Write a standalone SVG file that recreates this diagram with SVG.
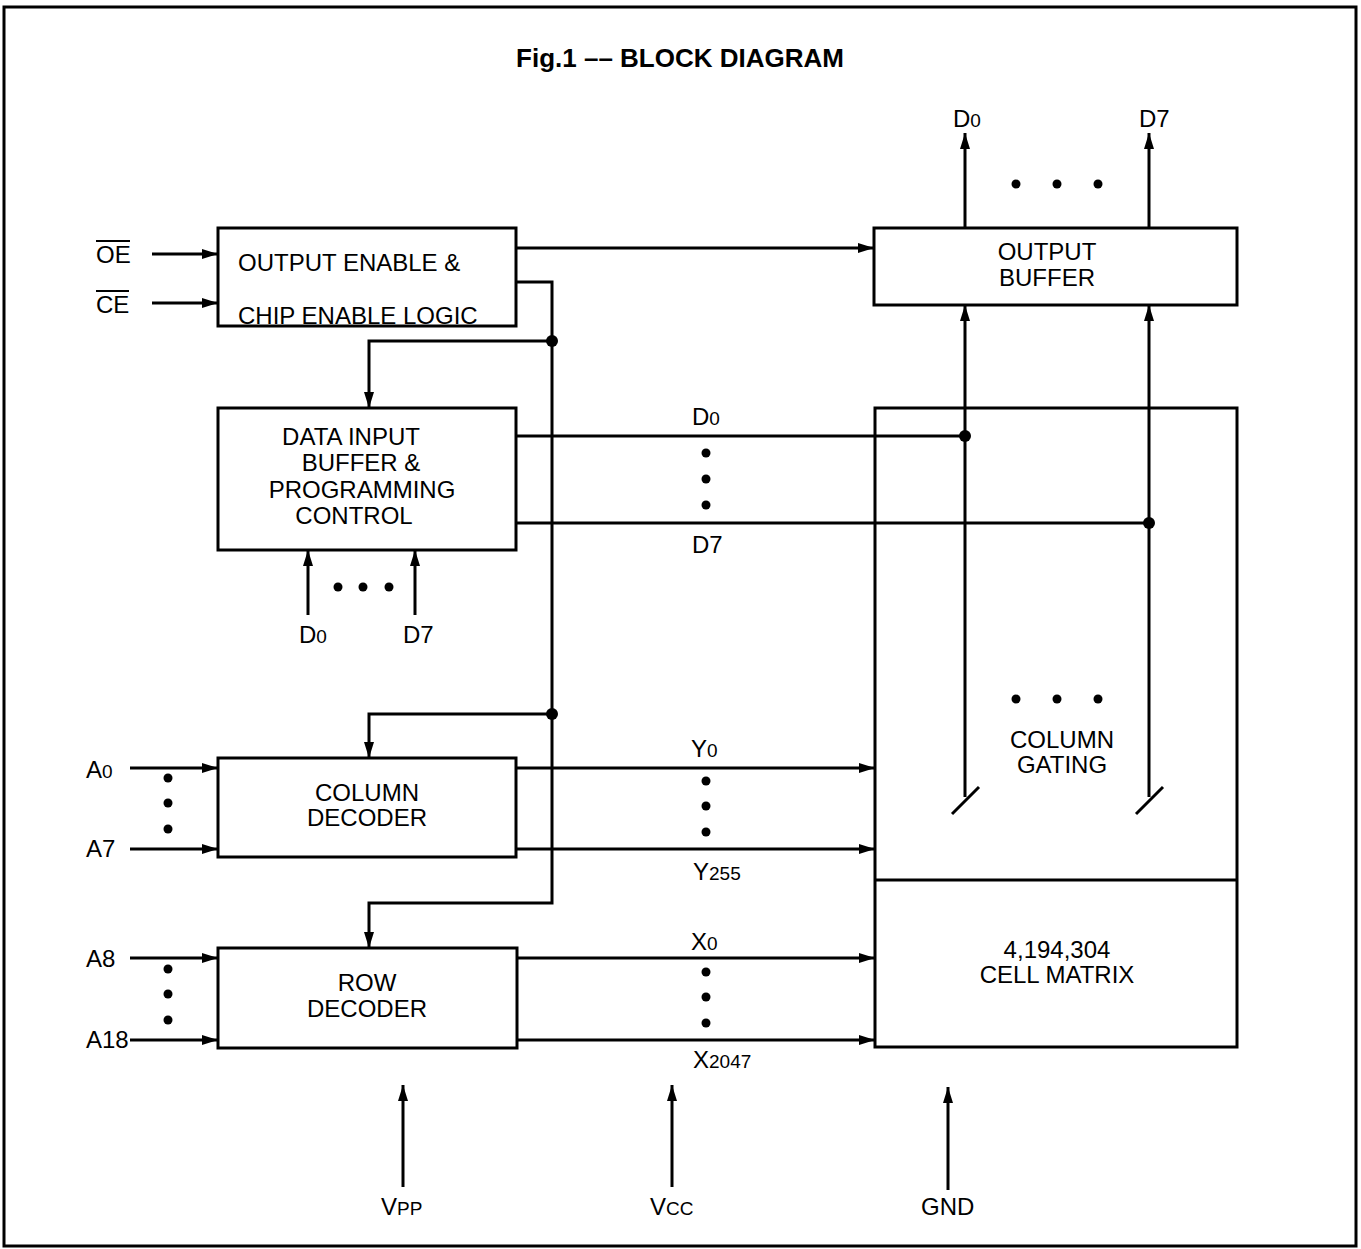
<svg xmlns="http://www.w3.org/2000/svg" width="1361" height="1249" viewBox="0 0 1361 1249">
<style>
.box{fill:#fff;stroke:#000;stroke-width:3}
.ln{fill:none;stroke:#000;stroke-width:3}
.t{font-family:"Liberation Sans",Arial,sans-serif;font-size:24px;fill:#000}
.c{text-anchor:middle}
.s{font-size:19px}
.title{font-family:"Liberation Sans",Arial,sans-serif;font-size:26px;font-weight:bold;fill:#000;text-anchor:middle}
</style>
<defs>
<marker id="ah" viewBox="0 0 16 10" refX="16" refY="5" markerWidth="16" markerHeight="10" orient="auto" markerUnits="userSpaceOnUse">
<path d="M0,0 L16,5 L0,10 z" fill="#000"/>
</marker>
</defs>
<rect x="0" y="0" width="1361" height="1249" fill="#fff"/>
<rect x="4" y="7" width="1352" height="1239" fill="none" stroke="#000" stroke-width="3"/>
<text class="title" x="680" y="67">Fig.1 –– BLOCK DIAGRAM</text>

<g id="connectors">
<line class="ln" x1="152" y1="254" x2="218" y2="254" marker-end="url(#ah)"/>
<line class="ln" x1="152" y1="303" x2="218" y2="303" marker-end="url(#ah)"/>
<line class="ln" x1="516" y1="248" x2="874" y2="248" marker-end="url(#ah)"/>
<polyline class="ln" points="516,282 552,282 552,903 369,903 369,948" marker-end="url(#ah)"/>
<polyline class="ln" points="552,341 369,341 369,408" marker-end="url(#ah)"/>
<polyline class="ln" points="552,714 369,714 369,758" marker-end="url(#ah)"/>
<circle cx="552" cy="341" r="6"/>
<circle cx="552" cy="714" r="6"/>
<line class="ln" x1="308" y1="615" x2="308" y2="550" marker-end="url(#ah)"/>
<line class="ln" x1="415" y1="615" x2="415" y2="550" marker-end="url(#ah)"/>
<circle cx="338" cy="587" r="4.5"/><circle cx="363" cy="587" r="4.5"/><circle cx="389" cy="587" r="4.5"/>
<line class="ln" x1="516" y1="436" x2="965" y2="436"/>
<line class="ln" x1="516" y1="523" x2="1149" y2="523"/>
<circle cx="965" cy="436" r="6"/>
<circle cx="1149" cy="523" r="6"/>
<circle cx="706" cy="453" r="4.5"/><circle cx="706" cy="479" r="4.5"/><circle cx="706" cy="505" r="4.5"/>
<line class="ln" x1="965" y1="797" x2="965" y2="305" marker-end="url(#ah)"/>
<line class="ln" x1="1149" y1="797" x2="1149" y2="305" marker-end="url(#ah)"/>
<line class="ln" x1="952" y1="814" x2="979" y2="787"/>
<line class="ln" x1="1136" y1="814" x2="1163" y2="787"/>
<line class="ln" x1="965" y1="228" x2="965" y2="133" marker-end="url(#ah)"/>
<line class="ln" x1="1149" y1="228" x2="1149" y2="133" marker-end="url(#ah)"/>
<circle cx="1016" cy="184" r="4.5"/><circle cx="1057" cy="184" r="4.5"/><circle cx="1098" cy="184" r="4.5"/>
<circle cx="1016" cy="699" r="4.5"/><circle cx="1057" cy="699" r="4.5"/><circle cx="1098" cy="699" r="4.5"/>
<line class="ln" x1="130" y1="768" x2="218" y2="768" marker-end="url(#ah)"/>
<line class="ln" x1="130" y1="849" x2="218" y2="849" marker-end="url(#ah)"/>
<circle cx="168" cy="778" r="4.5"/><circle cx="168" cy="803" r="4.5"/><circle cx="168" cy="829" r="4.5"/>
<line class="ln" x1="130" y1="958" x2="218" y2="958" marker-end="url(#ah)"/>
<line class="ln" x1="130" y1="1040" x2="218" y2="1040" marker-end="url(#ah)"/>
<circle cx="168" cy="969" r="4.5"/><circle cx="168" cy="994" r="4.5"/><circle cx="168" cy="1020" r="4.5"/>
<line class="ln" x1="516" y1="768" x2="875" y2="768" marker-end="url(#ah)"/>
<line class="ln" x1="516" y1="849" x2="875" y2="849" marker-end="url(#ah)"/>
<circle cx="706" cy="781" r="4.5"/><circle cx="706" cy="806" r="4.5"/><circle cx="706" cy="832" r="4.5"/>
<line class="ln" x1="517" y1="958" x2="875" y2="958" marker-end="url(#ah)"/>
<line class="ln" x1="517" y1="1040" x2="875" y2="1040" marker-end="url(#ah)"/>
<circle cx="706" cy="972" r="4.5"/><circle cx="706" cy="997" r="4.5"/><circle cx="706" cy="1023" r="4.5"/>
<line class="ln" x1="403" y1="1187" x2="403" y2="1085" marker-end="url(#ah)"/>
<line class="ln" x1="672" y1="1187" x2="672" y2="1085" marker-end="url(#ah)"/>
<line class="ln" x1="948" y1="1190" x2="948" y2="1087" marker-end="url(#ah)"/>
</g>

<g id="oe-ce-logic">
<rect class="box" x="218" y="228" width="298" height="98"/>
<text class="t" x="238" y="271">OUTPUT ENABLE &amp;</text>
<text class="t" x="238" y="324">CHIP ENABLE LOGIC</text>
</g>

<g id="data-input-buffer">
<rect class="box" x="218" y="408" width="298" height="142"/>
<text class="t c" x="351" y="445">DATA INPUT</text>
<text class="t c" x="361" y="471">BUFFER &amp;</text>
<text class="t c" x="362" y="498">PROGRAMMING</text>
<text class="t c" x="354" y="524">CONTROL</text>
</g>

<g id="output-buffer">
<rect class="box" x="874" y="228" width="363" height="77"/>
<text class="t c" x="1047" y="260">OUTPUT</text>
<text class="t c" x="1047" y="286">BUFFER</text>
</g>

<g id="column-gating-cell-matrix">
<rect x="875" y="408" width="362" height="639" fill="none" stroke="#000" stroke-width="3"/>
<line class="ln" x1="875" y1="880" x2="1237" y2="880"/>
<text class="t c" x="1062" y="748">COLUMN</text>
<text class="t c" x="1062" y="773">GATING</text>
<text class="t c" x="1057" y="958">4,194,304</text>
<text class="t c" x="1057" y="983">CELL MATRIX</text>
</g>

<g id="column-decoder">
<rect class="box" x="218" y="758" width="298" height="99"/>
<text class="t c" x="367" y="801">COLUMN</text>
<text class="t c" x="367" y="826">DECODER</text>
</g>

<g id="row-decoder">
<rect class="box" x="218" y="948" width="299" height="100"/>
<text class="t c" x="367" y="991">ROW</text>
<text class="t c" x="367" y="1017">DECODER</text>
</g>

<g id="labels">
<text class="t" x="96" y="263">OE</text>
<line x1="96" y1="241" x2="130" y2="241" stroke="#000" stroke-width="2"/>
<text class="t" x="96" y="313">CE</text>
<line x1="96" y1="291" x2="129" y2="291" stroke="#000" stroke-width="2"/>
<text class="t" x="953" y="127">D<tspan class="s">0</tspan></text>
<text class="t" x="1139" y="127">D7</text>
<text class="t" x="692" y="425">D<tspan class="s">0</tspan></text>
<text class="t" x="692" y="553">D7</text>
<text class="t" x="299" y="643">D<tspan class="s">0</tspan></text>
<text class="t" x="403" y="643">D7</text>
<text class="t" x="86" y="778">A<tspan class="s">0</tspan></text>
<text class="t" x="86" y="857">A7</text>
<text class="t" x="86" y="967">A8</text>
<text class="t" x="86" y="1048">A18</text>
<text class="t" x="691" y="757">Y<tspan class="s">0</tspan></text>
<text class="t" x="693" y="880">Y<tspan class="s">255</tspan></text>
<text class="t" x="691" y="950">X<tspan class="s">0</tspan></text>
<text class="t" x="693" y="1068">X<tspan class="s">2047</tspan></text>
<text class="t" x="381" y="1215">V<tspan class="s">PP</tspan></text>
<text class="t" x="650" y="1215">V<tspan class="s">CC</tspan></text>
<text class="t" x="921" y="1215">GND</text>
</g>
</svg>
